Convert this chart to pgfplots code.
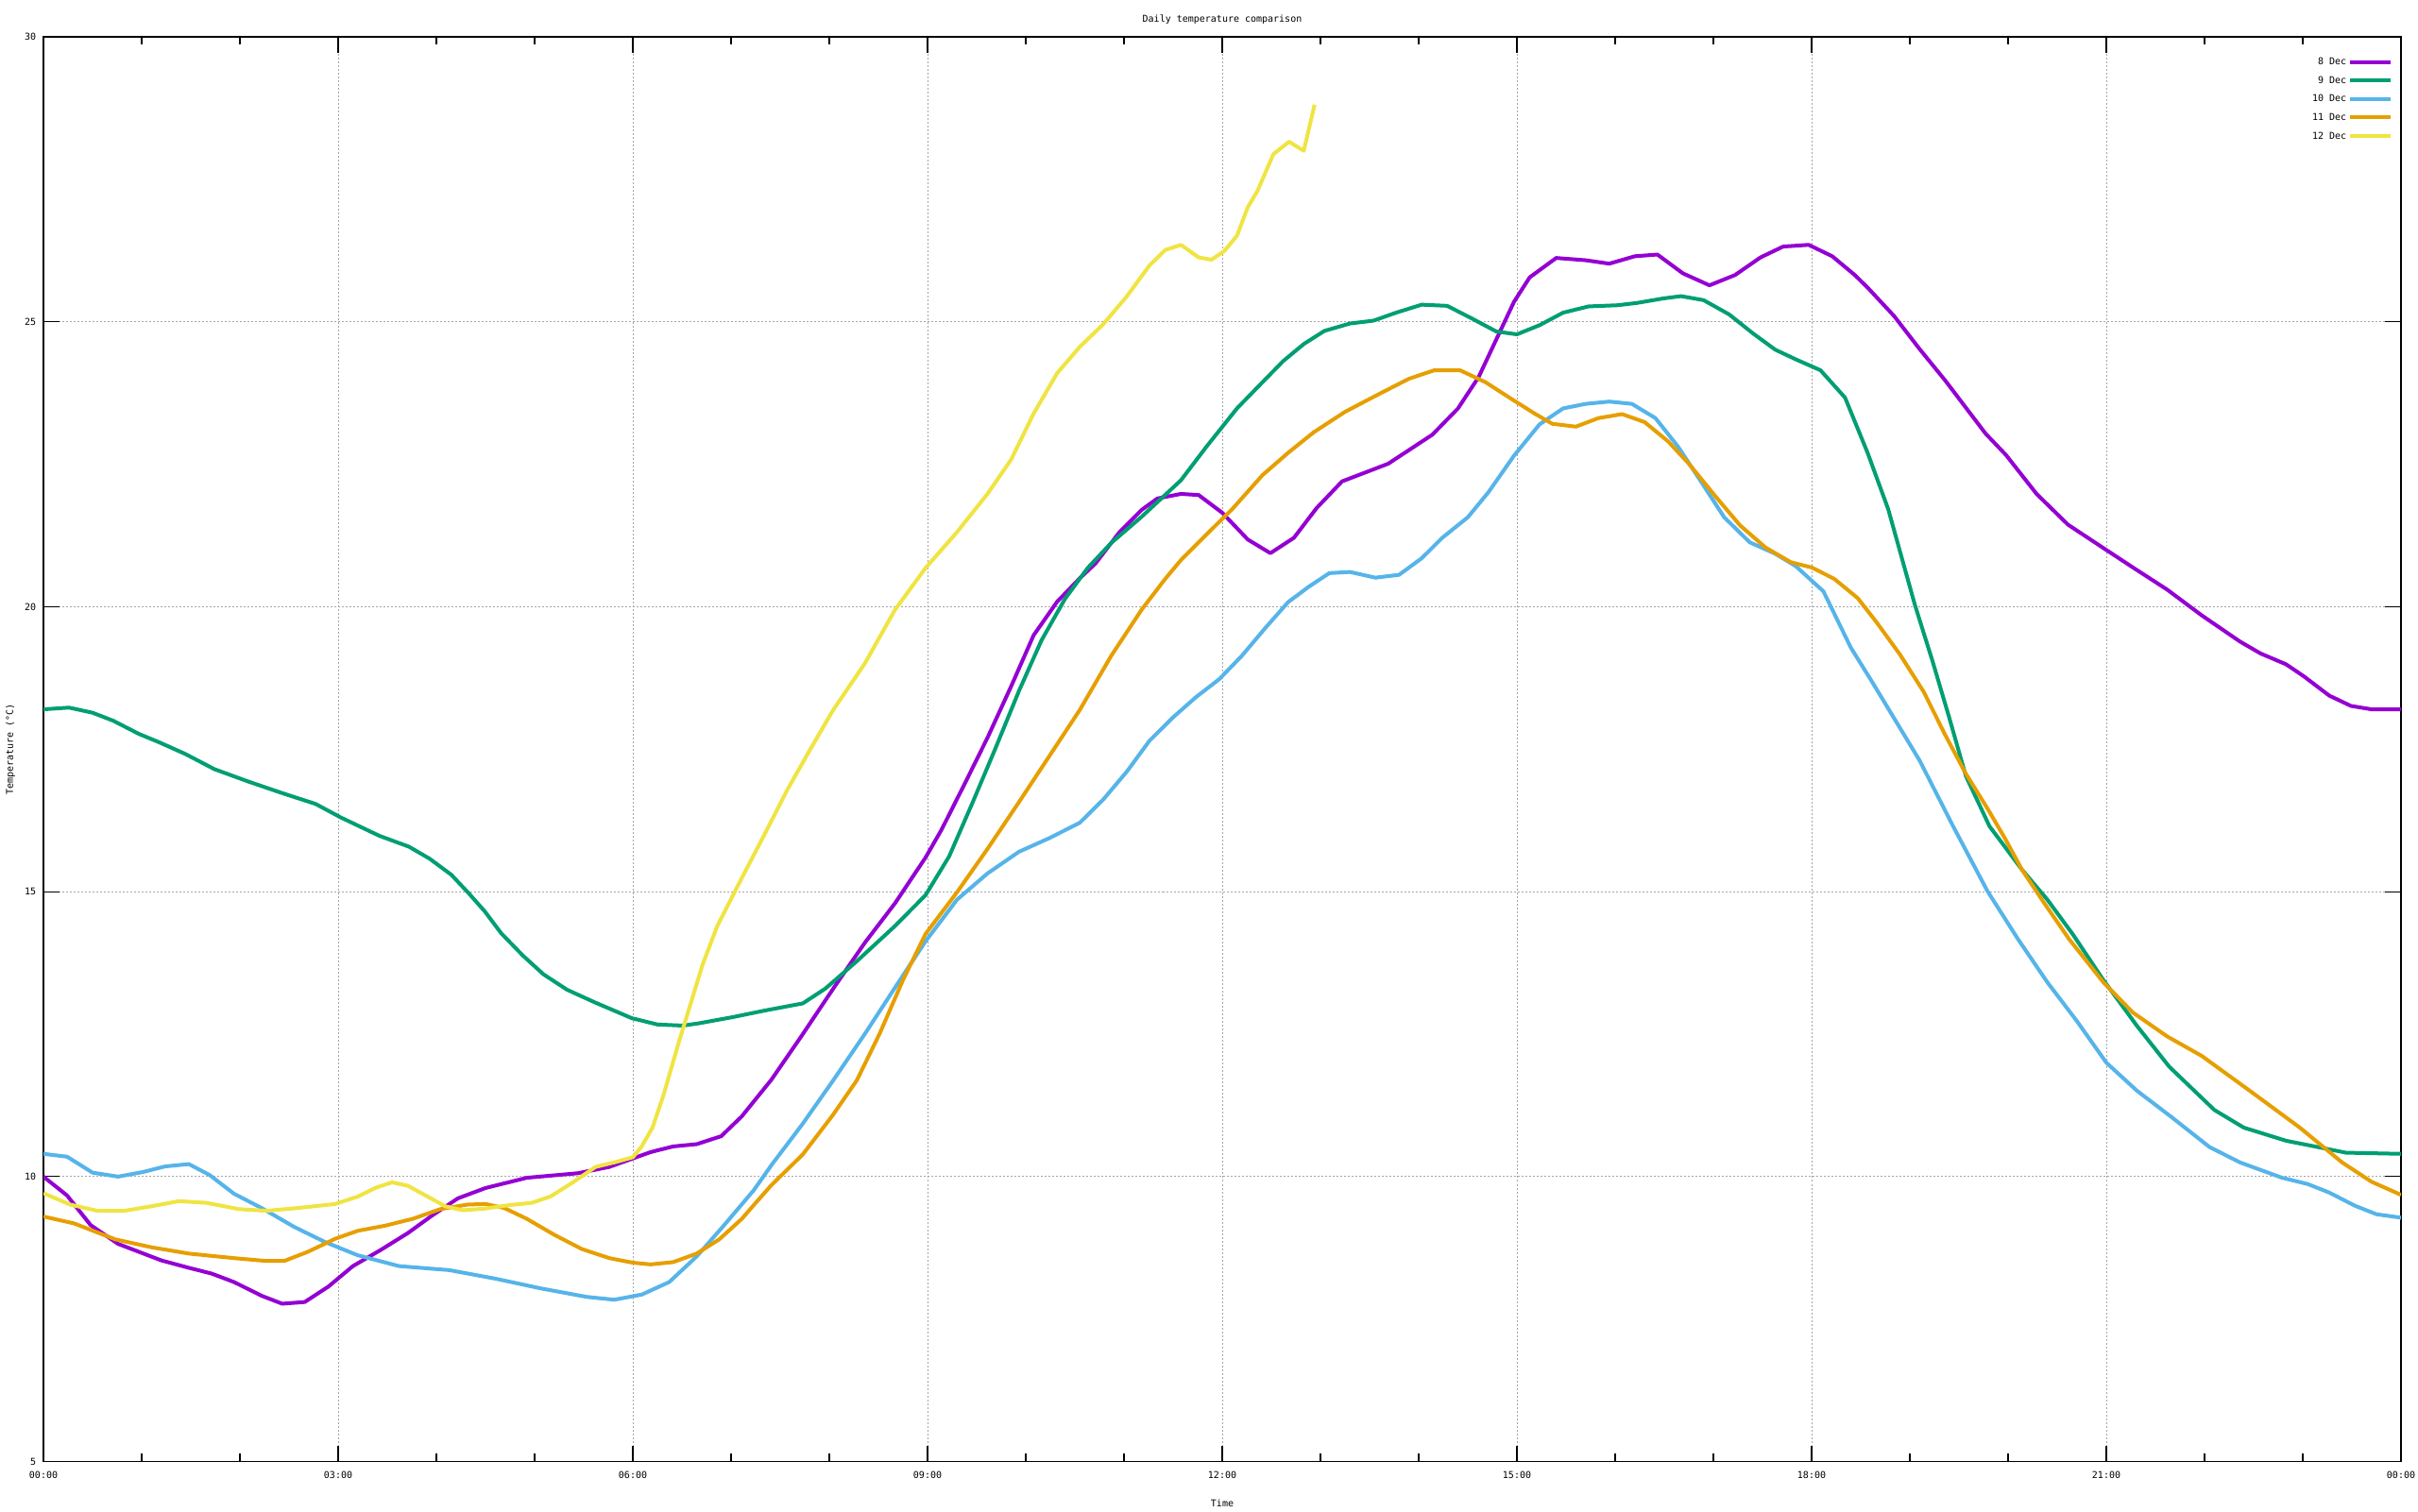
\documentclass[border=0pt]{standalone}
\usepackage{fontspec}
\usepackage{pgfplots}
\pgfplotsset{compat=1.18}
\usepackage{pgfplotstable}
\newfontfamily\gpfont{DejaVu Sans Mono}
\newcommand{\gpsize}{\gpfont\fontsize{2.5pt}{3pt}\selectfont}
\definecolor{cA}{HTML}{9400D3}
\definecolor{cB}{HTML}{009E73}
\definecolor{cC}{HTML}{56B4E9}
\definecolor{cD}{HTML}{E69F00}
\definecolor{cE}{HTML}{F0E442}
\definecolor{gridgray}{RGB}{165,165,165}

\pgfplotstableread{
h t
0.00 10.00
0.24 9.67
0.48 9.15
0.76 8.82
1.20 8.53
1.48 8.40
1.71 8.30
1.94 8.15
2.22 7.91
2.43 7.77
2.66 7.80
2.90 8.07
3.15 8.43
3.43 8.71
3.71 9.01
3.95 9.31
4.22 9.62
4.50 9.80
4.92 9.98
5.44 10.06
5.76 10.17
6.18 10.43
6.41 10.53
6.65 10.57
6.90 10.71
7.11 11.06
7.41 11.70
7.73 12.50
8.04 13.30
8.36 14.10
8.67 14.80
8.98 15.60
9.14 16.08
9.38 16.90
9.61 17.70
9.85 18.60
10.08 19.50
10.32 20.09
10.55 20.50
10.71 20.76
10.95 21.30
11.18 21.70
11.34 21.90
11.58 21.98
11.76 21.96
12.00 21.65
12.26 21.18
12.49 20.94
12.73 21.21
12.96 21.73
13.22 22.20
13.69 22.51
14.14 23.02
14.40 23.48
14.61 24.03
14.79 24.69
14.97 25.35
15.13 25.78
15.40 26.12
15.70 26.08
15.94 26.02
16.20 26.15
16.43 26.18
16.69 25.85
16.96 25.64
17.22 25.82
17.48 26.13
17.71 26.32
17.97 26.35
18.21 26.15
18.44 25.82
18.57 25.60
18.84 25.10
19.10 24.52
19.36 23.97
19.77 23.04
19.98 22.66
20.29 21.98
20.61 21.44
20.97 21.03
21.27 20.69
21.62 20.30
21.97 19.85
22.36 19.39
22.57 19.18
22.83 18.99
23.01 18.78
23.27 18.44
23.49 18.26
23.70 18.20
24.00 18.20
}\decA

\pgfplotstableread{
h t
0.00 18.20
0.26 18.23
0.50 18.14
0.71 18.00
0.97 17.77
1.18 17.62
1.44 17.42
1.74 17.15
2.09 16.93
2.43 16.73
2.77 16.54
3.03 16.30
3.42 15.98
3.72 15.79
3.93 15.58
4.15 15.30
4.32 14.99
4.49 14.66
4.66 14.27
4.88 13.88
5.09 13.55
5.33 13.28
5.61 13.06
5.99 12.78
6.25 12.67
6.51 12.65
6.67 12.69
7.02 12.80
7.33 12.91
7.73 13.04
7.96 13.30
8.28 13.78
8.67 14.40
8.98 14.94
9.22 15.62
9.46 16.57
9.69 17.51
9.93 18.52
10.16 19.41
10.40 20.14
10.63 20.68
10.87 21.12
11.18 21.58
11.58 22.22
11.84 22.81
12.15 23.48
12.41 23.94
12.62 24.31
12.83 24.61
13.04 24.84
13.30 24.97
13.54 25.02
13.77 25.16
14.03 25.30
14.29 25.28
14.55 25.05
14.79 24.83
15.00 24.78
15.23 24.94
15.47 25.16
15.73 25.27
16.02 25.29
16.22 25.33
16.49 25.41
16.67 25.45
16.90 25.38
17.16 25.13
17.40 24.80
17.63 24.51
17.84 24.34
18.09 24.15
18.34 23.67
18.57 22.70
18.78 21.71
19.05 20.04
19.23 19.05
19.40 18.06
19.57 17.03
19.81 16.15
20.14 15.39
20.40 14.86
20.66 14.25
20.97 13.45
21.31 12.65
21.64 11.93
22.10 11.17
22.40 10.86
22.83 10.63
23.44 10.42
24.00 10.40
}\decB

\pgfplotstableread{
h t
0.00 10.40
0.24 10.35
0.50 10.07
0.76 10.00
1.01 10.08
1.24 10.18
1.48 10.22
1.69 10.03
1.94 9.70
2.22 9.45
2.55 9.12
2.87 8.85
3.20 8.62
3.62 8.43
4.13 8.36
4.60 8.21
5.06 8.04
5.53 7.89
5.81 7.84
6.09 7.93
6.37 8.15
6.65 8.60
6.93 9.15
7.23 9.76
7.41 10.20
7.73 10.93
8.04 11.69
8.36 12.50
8.67 13.32
8.98 14.13
9.30 14.86
9.61 15.32
9.93 15.70
10.24 15.94
10.55 16.21
10.79 16.62
11.03 17.11
11.26 17.65
11.50 18.06
11.73 18.41
11.97 18.73
12.20 19.14
12.44 19.63
12.67 20.08
12.88 20.35
13.09 20.59
13.30 20.61
13.56 20.51
13.80 20.56
14.03 20.85
14.24 21.21
14.50 21.57
14.71 22.01
14.97 22.65
15.23 23.20
15.47 23.48
15.70 23.56
15.94 23.60
16.17 23.56
16.41 23.31
16.64 22.81
16.85 22.26
17.11 21.57
17.37 21.13
17.63 20.93
17.84 20.71
18.12 20.27
18.40 19.28
18.62 18.67
19.10 17.30
19.44 16.15
19.79 15.01
20.10 14.17
20.40 13.41
20.70 12.73
21.00 12.00
21.31 11.51
21.66 11.05
22.05 10.52
22.36 10.25
22.79 9.98
23.05 9.87
23.27 9.72
23.53 9.49
23.75 9.34
24.00 9.28
}\decC

\pgfplotstableread{
h t
0.00 9.30
0.31 9.18
0.73 8.90
1.10 8.76
1.48 8.65
1.94 8.57
2.27 8.52
2.45 8.52
2.69 8.68
2.97 8.91
3.20 9.05
3.48 9.14
3.76 9.26
4.04 9.43
4.32 9.51
4.50 9.52
4.69 9.45
4.92 9.26
5.20 8.98
5.48 8.73
5.76 8.57
6.00 8.49
6.18 8.46
6.41 8.50
6.65 8.65
6.88 8.90
7.11 9.26
7.23 9.50
7.41 9.85
7.73 10.39
8.04 11.09
8.28 11.69
8.51 12.50
8.75 13.45
8.98 14.26
9.30 14.99
9.61 15.75
9.93 16.57
10.24 17.38
10.55 18.19
10.87 19.14
11.18 19.95
11.42 20.49
11.58 20.82
11.84 21.27
12.10 21.71
12.41 22.31
12.67 22.70
12.93 23.06
13.25 23.42
13.56 23.70
13.90 24.00
14.16 24.15
14.42 24.15
14.68 23.94
14.95 23.64
15.18 23.39
15.36 23.21
15.60 23.16
15.83 23.31
16.07 23.38
16.30 23.24
16.54 22.90
16.75 22.51
17.01 21.96
17.27 21.43
17.53 21.04
17.79 20.78
18.00 20.69
18.23 20.49
18.47 20.15
18.66 19.73
18.90 19.16
19.14 18.51
19.36 17.75
19.57 17.07
19.79 16.46
19.97 15.93
20.14 15.39
20.36 14.82
20.62 14.17
20.97 13.41
21.27 12.88
21.62 12.46
21.97 12.12
22.49 11.47
22.97 10.86
23.40 10.25
23.70 9.91
24.00 9.68
}\decD

\pgfplotstableread{
h t
0.00 9.71
0.27 9.51
0.55 9.40
0.82 9.40
1.10 9.48
1.38 9.57
1.66 9.54
1.99 9.43
2.27 9.40
2.59 9.45
2.97 9.52
3.20 9.65
3.39 9.81
3.55 9.90
3.71 9.84
3.90 9.66
4.09 9.48
4.27 9.41
4.50 9.44
4.74 9.50
4.97 9.54
5.16 9.65
5.39 9.90
5.62 10.17
5.81 10.25
6.00 10.34
6.09 10.53
6.20 10.86
6.31 11.42
6.47 12.37
6.71 13.72
6.86 14.40
7.10 15.21
7.33 15.97
7.57 16.78
7.81 17.51
8.04 18.19
8.36 19.00
8.67 19.95
8.98 20.68
9.30 21.31
9.61 21.98
9.85 22.58
10.08 23.39
10.32 24.10
10.55 24.56
10.79 24.96
11.03 25.45
11.26 25.99
11.42 26.26
11.58 26.35
11.76 26.13
11.89 26.09
12.02 26.24
12.15 26.51
12.26 27.01
12.36 27.30
12.52 27.94
12.68 28.16
12.83 28.00
12.94 28.81
}\decE

\begin{document}
\begin{tikzpicture}
\begin{axis}[
  at={(0pt,0pt)}, anchor=south west,
  scale only axis,
  width=623.75pt, height=377pt,
  xmin=0, xmax=24, ymin=5, ymax=30,
  xtick={0,3,...,24},
  xticklabels={00:00,03:00,06:00,09:00,12:00,15:00,18:00,21:00,00:00},
  minor x tick num=2,
  ytick={5,10,...,30},
  tick align=inside,
  major tick length=4.2pt,
  minor tick length=2.1pt,
  axis line style={line width=0.3pt},
  every tick/.style={black, line width=0.3pt},
  xmajorgrids, ymajorgrids,
  grid style={gridgray, line width=0.25pt, dash pattern=on 0.5pt off 0.5pt},
  /pgf/number format/assume math mode=true,
  every tick label/.append style={font=\gpsize},
  xticklabel style={anchor=center, inner sep=0pt, yshift=-3.5pt},
  yticklabel style={anchor=east, inner sep=0pt, xshift=-1.75pt},
  every axis title shift=0pt,
  title={Daily temperature comparison},
  every axis title/.style={at={(axis description cs:0.5,1)}, anchor=center, yshift=4.5pt, inner sep=0pt, font=\gpsize},
  xlabel={Time},
  every axis x label/.style={at={(axis description cs:0.5,0)}, anchor=center, yshift=-11pt, inner sep=0pt, font=\gpsize},
  ylabel={Temperature (°C)},
  every axis y label/.style={at={(axis description cs:-0.014,0.5)}, rotate=90, anchor=center, inner sep=0pt, font=\gpsize},
  legend plot pos=right,
  legend cell align=right,
  legend image code/.code={\draw[#1] (0pt,0pt) -- (10.75pt,0pt);},
  legend style={draw=none, fill=none, at={(axis description cs:0.9968,0.9873)}, anchor=north east,
    font=\gpsize, inner sep=0pt, row sep=1.6pt, column sep=0pt,
    nodes={inner sep=0.5pt, text height=1.9pt, text depth=0.4pt}},
  every axis plot/.append style={line width=1pt, line join=round, no markers},
]
\addplot[cA] table[x=h, y=t] {\decA};
\addlegendentry{8 Dec}
\addplot[cB] table[x=h, y=t] {\decB};
\addlegendentry{9 Dec}
\addplot[cC] table[x=h, y=t] {\decC};
\addlegendentry{10 Dec}
\addplot[cD] table[x=h, y=t] {\decD};
\addlegendentry{11 Dec}
\addplot[cE] table[x=h, y=t] {\decE};
\addlegendentry{12 Dec}
\end{axis}
\pgfresetboundingbox
\useasboundingbox (-11.5pt,-13.25pt) rectangle (628.25pt,386.75pt);
\end{tikzpicture}
\end{document}
